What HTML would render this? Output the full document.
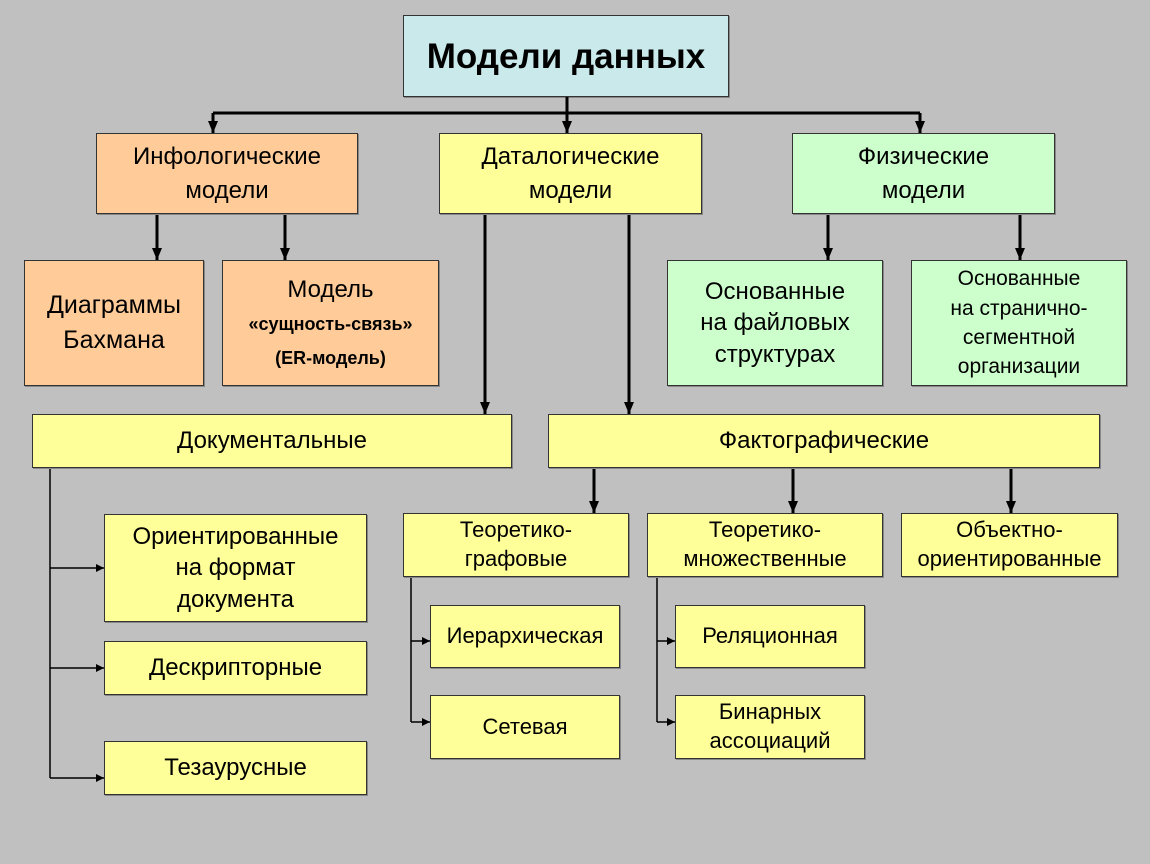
<!DOCTYPE html>
<html><head><meta charset="utf-8"><style>
body{margin:0;width:1150px;height:864px;background:#c0c0c0;position:relative;overflow:hidden;font-family:"Liberation Sans","DejaVu Sans",sans-serif}
.b{position:absolute;box-sizing:border-box;border:1.5px solid #333;display:flex;align-items:center;justify-content:center;text-align:center;color:#000;line-height:1.4;box-shadow:1px 1px 0 #888}
.y{background:#ffff99}.o{background:#ffcc99}.g{background:#ccffcc}
svg{position:absolute;left:0;top:0;z-index:5}
</style></head><body>
<svg width="1150" height="864">
<defs>
<marker id="a" markerWidth="8" markerHeight="8" refX="8" refY="4" orient="auto" markerUnits="userSpaceOnUse"><path d="M0,0L8,4L0,8z" fill="#000"/></marker>
<marker id="s" markerWidth="12" markerHeight="12" refX="12" refY="6" orient="auto" markerUnits="userSpaceOnUse"><path d="M0,1L12,6L0,11z" fill="#000"/></marker>
</defs>
<g stroke="#000" stroke-width="3" fill="none">
<path d="M567,97V113M213,113H920"/>
</g>
<g stroke="#000" stroke-width="3" marker-end="url(#s)">
<line x1="213" y1="113" x2="213" y2="133"/>
<line x1="567" y1="113" x2="567" y2="133"/>
<line x1="920" y1="113" x2="920" y2="133"/>
<line x1="157" y1="215" x2="157" y2="260"/>
<line x1="285" y1="215" x2="285" y2="260"/>
<line x1="828" y1="215" x2="828" y2="260"/>
<line x1="1020" y1="215" x2="1020" y2="260"/>
<line x1="485" y1="215" x2="485" y2="414"/>
<line x1="629" y1="215" x2="629" y2="414"/>
<line x1="594" y1="469" x2="594" y2="513"/>
<line x1="793" y1="469" x2="793" y2="513"/>
<line x1="1011" y1="469" x2="1011" y2="513"/>
</g>
<g stroke="#000" stroke-width="1.5" fill="none">
<path d="M50,469V778M411,578V722M657,578V722"/>
</g>
<g stroke="#000" stroke-width="1.5" marker-end="url(#a)">
<line x1="50" y1="568" x2="104" y2="568"/>
<line x1="50" y1="668" x2="104" y2="668"/>
<line x1="50" y1="778" x2="104" y2="778"/>
<line x1="411" y1="641" x2="430" y2="641"/>
<line x1="411" y1="722" x2="430" y2="722"/>
<line x1="657" y1="641" x2="675" y2="641"/>
<line x1="657" y1="722" x2="675" y2="722"/>
</g>
</svg>
<div class="b" style="left:403px;top:15px;width:326px;height:82px;background:#c9e9ea;font-weight:bold;font-size:35px">Модели данных</div>
<div class="b o" style="left:96px;top:133px;width:262px;height:81px;font-size:24px">Инфологические<br>модели</div>
<div class="b y" style="left:439px;top:133px;width:263px;height:81px;font-size:24px">Даталогические<br>модели</div>
<div class="b g" style="left:792px;top:133px;width:263px;height:81px;font-size:24px">Физические<br>модели</div>
<div class="b o" style="left:24px;top:260px;width:180px;height:126px;font-size:25px">Диаграммы<br>Бахмана</div>
<div class="b o" style="left:222px;top:260px;width:217px;height:126px;font-size:24px"><div>Модель<br><b style="font-size:18px;line-height:1.5">«сущность-связь»<br>(ER-модель)</b></div></div>
<div class="b g" style="left:667px;top:260px;width:216px;height:126px;font-size:24px;line-height:1.3">Основанные<br>на файловых<br>структурах</div>
<div class="b g" style="left:911px;top:260px;width:216px;height:126px;font-size:21px;line-height:1.4">Основанные<br>на странично-<br>сегментной<br>организации</div>
<div class="b y" style="left:32px;top:414px;width:480px;height:54px;font-size:24px">Документальные</div>
<div class="b y" style="left:548px;top:414px;width:552px;height:54px;font-size:24px">Фактографические</div>
<div class="b y" style="left:104px;top:514px;width:263px;height:108px;font-size:24px;line-height:1.3">Ориентированные<br>на формат<br>документа</div>
<div class="b y" style="left:104px;top:641px;width:263px;height:54px;font-size:24px">Дескрипторные</div>
<div class="b y" style="left:104px;top:741px;width:263px;height:54px;font-size:24px">Тезаурусные</div>
<div class="b y" style="left:403px;top:513px;width:226px;height:64px;font-size:22px;line-height:1.3">Теоретико-<br>графовые</div>
<div class="b y" style="left:647px;top:513px;width:236px;height:64px;font-size:22px;line-height:1.3">Теоретико-<br>множественные</div>
<div class="b y" style="left:901px;top:513px;width:217px;height:64px;font-size:22px;line-height:1.3">Объектно-<br>ориентированные</div>
<div class="b y" style="left:430px;top:605px;width:190px;height:63px;font-size:22px">Иерархическая</div>
<div class="b y" style="left:430px;top:695px;width:190px;height:64px;font-size:22px">Сетевая</div>
<div class="b y" style="left:675px;top:605px;width:190px;height:63px;font-size:22px">Реляционная</div>
<div class="b y" style="left:675px;top:695px;width:190px;height:64px;font-size:22px;line-height:1.3">Бинарных<br>ассоциаций</div>
</body></html>
